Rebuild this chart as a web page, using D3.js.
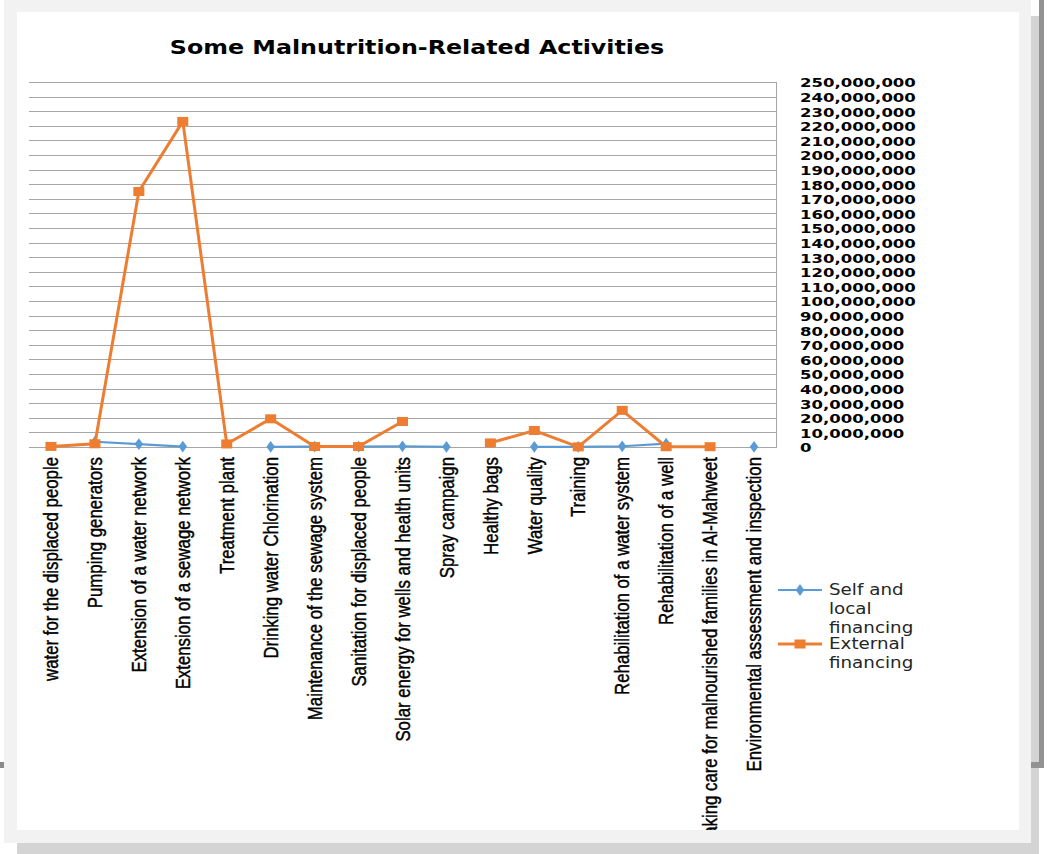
<!DOCTYPE html>
<html>
<head>
<meta charset="utf-8">
<script src="https://cdn.jsdelivr.net/npm/d3@7"></script>
<style>
    body { margin: 0; background: #ffffff; }
    svg { display: block; }
</style>
</head>
<body>
<div id="chart_container"></div>
<script>
var categories = [
    "water for the displaced people",
    "Pumping generators",
    "Extension of a water network",
    "Extension of a sewage network",
    "Treatment plant",
    "Drinking water Chlorination",
    "Maintenance of the sewage system",
    "Sanitation for displaced people",
    "Solar energy for wells and health units",
    "Spray campaign",
    "Healthy bags",
    "Water quality",
    "Training",
    "Rehabilitation of a water system",
    "Rehabilitation of a well",
    "Taking care for malnourished families in Al-Mahweet",
    "Environmental assessment and inspection"
];

// null = no value (Excel leaves a gap)
var selfFinancing = [null, 3600000, 2000000, 300000, null, 100000, 300000, 300000,
    500000, 100000, null, 100000, 100000, 500000, 2300000, null, 100000];
var externalFinancing = [400000, 2200000, 175000000, 223000000, 2100000, 19300000, 300000, 300000,
    17500000, null, 2800000, 11300000, 100000, 25100000, 200000, 200000, null];

var legendSelf = ["Self and", "local", "financing"];
var legendExternal = ["External", "financing"];
var chartTitle = "Some Malnutrition-Related Activities";

var blue = "#5b9bd5";
var orange = "#ed7d31";
var wide = "'DejaVu Sans', Verdana, sans-serif";
var narrow = "'Liberation Sans', Arial, sans-serif";

var svg = d3.select("#chart_container").append("svg")
    .attr("width", 1047)
    .attr("height", 854);

// window frame around the card
svg.append("rect").attr("x", 1031).attr("y", 16).attr("width", 8).attr("height", 838).attr("fill", "#d4d4d4");
svg.append("rect").attr("x", 17).attr("y", 843).attr("width", 1022).attr("height", 11).attr("fill", "#d4d4d4");
svg.append("rect").attr("x", 4).attr("y", 0).attr("width", 1027).attr("height", 843).attr("fill", "#f2f2f2");
svg.append("rect").attr("x", 1039).attr("y", 0).attr("width", 5).attr("height", 768).attr("fill", "#939393");
svg.append("rect").attr("x", 1031).attr("y", 762).attr("width", 13).attr("height", 6).attr("fill", "#939393");
svg.append("rect").attr("x", 0).attr("y", 762).attr("width", 4).attr("height", 6).attr("fill", "#8a8a8a");
svg.append("rect").attr("x", 17).attr("y", 12).attr("width", 1002).attr("height", 818).attr("fill", "#ffffff");

svg.append("clipPath").attr("id", "card_clip")
    .append("rect").attr("x", 17).attr("y", 12).attr("width", 1002).attr("height", 818);

var card = svg.append("g").attr("clip-path", "url(#card_clip)");

var x = d3.scaleBand()
    .domain(categories)
    .range([29, 776]);
var y = d3.scaleLinear()
    .domain([0, 250000000])
    .range([447, 82]);

function cx(name) {
    return x(name) + x.bandwidth() / 2;
}

// title
card.append("text")
    .attr("transform", "translate(417,47) scale(1.25,1)")
    .attr("text-anchor", "middle")
    .attr("dominant-baseline", "central")
    .style("font-family", wide)
    .style("font-weight", "bold")
    .style("font-size", "19px")
    .attr("fill", "#000")
    .text(chartTitle);

// gridlines
var ticks = y.ticks(25);
card.append("g").selectAll("line")
    .data(ticks)
    .enter().append("line")
    .attr("x1", 29)
    .attr("x2", 776)
    .attr("y1", function(d) { return Math.round(y(d)) + 0.5; })
    .attr("y2", function(d) { return Math.round(y(d)) + 0.5; })
    .attr("stroke", "#a6a6a6")
    .attr("stroke-width", 1);

card.append("line")
    .attr("x1", 776.5).attr("x2", 776.5)
    .attr("y1", y(250000000)).attr("y2", y(0) + 1)
    .attr("stroke", "#a6a6a6");

// y labels on the right
var fmt = d3.format(",");
card.append("g").selectAll("text")
    .data(ticks)
    .enter().append("text")
    .attr("transform", function(d) { return "translate(800," + (y(d) + 1) + ") scale(1.27,1)"; })
    .attr("dominant-baseline", "central")
    .style("font-family", wide)
    .style("font-weight", "bold")
    .style("font-size", "13px")
    .attr("fill", "#000")
    .text(function(d) { return fmt(d); });

// category labels, rotated
card.append("g").selectAll("text")
    .data(categories)
    .enter().append("text")
    .attr("transform", function(d) { return "translate(" + cx(d) + ",457) scale(1.25,1) rotate(-90)"; })
    .attr("text-anchor", "end")
    .attr("dominant-baseline", "central")
    .style("font-family", narrow)
    .style("font-size", "16.8px")
    .attr("fill", "#000")
    .attr("stroke", "#000")
    .attr("stroke-width", 0.35)
    .text(function(d) { return d; });

// lines
var line = d3.line()
    .defined(function(d) { return d.v !== null; })
    .x(function(d) { return cx(d.c); })
    .y(function(d) { return y(d.v); });

function pairs(values) {
    return categories.map(function(c, i) { return { c: c, v: values[i] }; });
}

var selfData = pairs(selfFinancing);
var extData = pairs(externalFinancing);

var diamond = d3.symbol().type(d3.symbolDiamond).size(40);

card.append("path")
    .datum(selfData)
    .attr("d", line)
    .attr("fill", "none")
    .attr("stroke", blue)
    .attr("stroke-width", 2.2);
card.append("g").selectAll("path")
    .data(selfData.filter(function(d) { return d.v !== null; }))
    .enter().append("path")
    .attr("d", diamond)
    .attr("transform", function(d) { return "translate(" + cx(d.c) + "," + y(d.v) + ") scale(1.25,1)"; })
    .attr("fill", blue);

card.append("path")
    .datum(extData)
    .attr("d", line)
    .attr("fill", "none")
    .attr("stroke", orange)
    .attr("stroke-width", 3);
card.append("g").selectAll("rect")
    .data(extData.filter(function(d) { return d.v !== null; }))
    .enter().append("rect")
    .attr("x", function(d) { return cx(d.c) - 5.5; })
    .attr("y", function(d) { return y(d.v) - 4.5; })
    .attr("width", 11)
    .attr("height", 9)
    .attr("fill", orange);

// legend
var legend = card.append("g");

legend.append("line")
    .attr("x1", 778).attr("x2", 822).attr("y1", 590).attr("y2", 590)
    .attr("stroke", blue).attr("stroke-width", 2.2);
legend.append("path")
    .attr("d", diamond)
    .attr("transform", "translate(800,590) scale(1.25,1)")
    .attr("fill", blue);

legend.append("line")
    .attr("x1", 778).attr("x2", 822).attr("y1", 644).attr("y2", 644)
    .attr("stroke", orange).attr("stroke-width", 3);
legend.append("rect")
    .attr("x", 794.5).attr("y", 639.5).attr("width", 11).attr("height", 9)
    .attr("fill", orange);

function legendText(lines, top) {
    legend.append("g").selectAll("text")
        .data(lines)
        .enter().append("text")
        .attr("transform", function(d, i) { return "translate(829," + (top + i * 19) + ") scale(1.22,1)"; })
        .attr("dominant-baseline", "central")
        .style("font-family", wide)
        .style("font-size", "15px")
        .attr("fill", "#262626")
        .text(function(d) { return d; });
}
legendText(legendSelf, 590);
legendText(legendExternal, 644);
</script>
</body>
</html>
